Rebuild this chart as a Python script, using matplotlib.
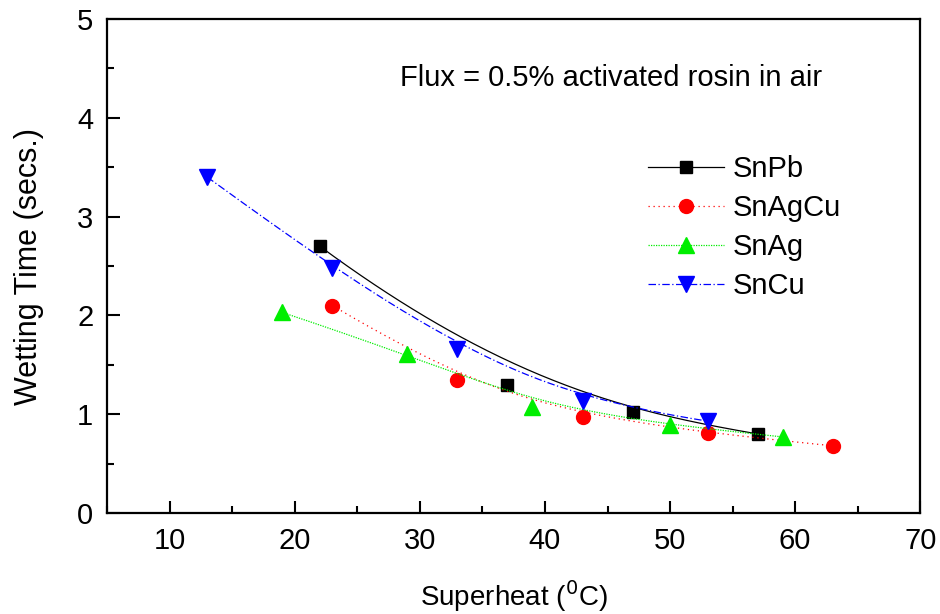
import numpy as np
import matplotlib
matplotlib.use('Agg')
from matplotlib import pyplot as plt
from matplotlib.lines import Line2D
from matplotlib.ticker import MultipleLocator

plt.rcParams['font.family'] = ['Liberation Sans', 'DejaVu Sans']

# data
snpb_x = [22, 37, 47, 57]
snpb_y = [2.70, 1.30, 1.02, 0.80]
snagcu_x = [23, 33, 43, 53, 63]
snagcu_y = [2.10, 1.35, 0.97, 0.81, 0.68]
snag_x = [19, 29, 39, 50, 59]
snag_y = [2.03, 1.61, 1.07, 0.89, 0.77]
sncu_x = [13, 23, 33, 43, 53]
sncu_y = [3.40, 2.48, 1.66, 1.13, 0.93]

series = [
    ('SnPb', snpb_x, snpb_y, 'black', '-', 's', 9),
    ('SnAgCu', snagcu_x, snagcu_y, 'red', (0, (1, 3)), 'o', 10),
    ('SnAg', snag_x, snag_y, '#00ee00', (0, (1, 1)), '^', 11),
    ('SnCu', sncu_x, sncu_y, 'blue', (0, (6, 2, 1, 2)), 'v', 11),
]


def bspline(px, py, num=200):
    # clamped uniform B-spline with the data points as control points
    px = np.asarray(px, float)
    py = np.asarray(py, float)
    n = len(px)
    k = min(3, n - 1)
    inner = np.linspace(0, 1, n - k + 1)[1:-1]
    knots = np.r_[[0.0] * (k + 1), inner, [1.0] * (k + 1)]
    u = np.linspace(0, 1, num, endpoint=False)
    B = np.array([((knots[i] <= u) & (u < knots[i + 1])).astype(float)
                  for i in range(len(knots) - 1)])
    for p in range(1, k + 1):
        Bn = np.zeros((len(knots) - 1 - p, len(u)))
        for i in range(len(Bn)):
            d1 = knots[i + p] - knots[i]
            d2 = knots[i + p + 1] - knots[i + 1]
            if d1 > 0:
                Bn[i] += (u - knots[i]) / d1 * B[i]
            if d2 > 0:
                Bn[i] += (knots[i + p + 1] - u) / d2 * B[i + 1]
        B = Bn
    xs = np.r_[B.T @ px, px[-1]]
    ys = np.r_[B.T @ py, py[-1]]
    return xs, ys


fig = plt.figure(figsize=(9.4, 6.14), dpi=100)
ax = fig.add_axes([0.114, 0.1645, 0.865, 0.8045])

handles = []
for name, x, y, c, ls, mk, ms in series:
    xs, ys = bspline(x, y)
    ax.plot(xs, ys, color=c, ls=ls, lw=0.9)
    ax.plot(x, y, ls='none', marker=mk, ms=ms, color=c, mec=c)
    handles.append(Line2D([], [], color=c, ls=ls, lw=0.9, marker=mk, ms=ms, mec=c, label=name))

ax.set_xlim(5, 70)
ax.set_ylim(0, 5)
ax.xaxis.set_major_locator(MultipleLocator(10))
ax.xaxis.set_minor_locator(MultipleLocator(5))
ax.yaxis.set_major_locator(MultipleLocator(1))
ax.yaxis.set_minor_locator(MultipleLocator(0.5))
ax.tick_params(which='both', direction='in', labelsize=21, width=1.5, top=False, right=False)
ax.tick_params(which='major', length=9, pad=10)
ax.tick_params(which='minor', length=5)
for s in ax.spines.values():
    s.set_linewidth(1.6)

ax.set_xlabel('Superheat ($^0$C)', fontsize=20, labelpad=17)
ax.set_ylabel('Wetting Time (secs.)', fontsize=22, labelpad=24)

ax.text(0.36, 0.88, 'Flux = 0.5% activated rosin in air', transform=ax.transAxes,
        fontsize=21, va='center')

ax.legend(handles=handles, loc='upper left', bbox_to_anchor=(0.665, 0.725), frameon=False,
          fontsize=21, handlelength=2.6, numpoints=1, labelspacing=0.38, handletextpad=0.3,
          borderaxespad=0, borderpad=0)

fig.savefig('out.png', dpi=100)
